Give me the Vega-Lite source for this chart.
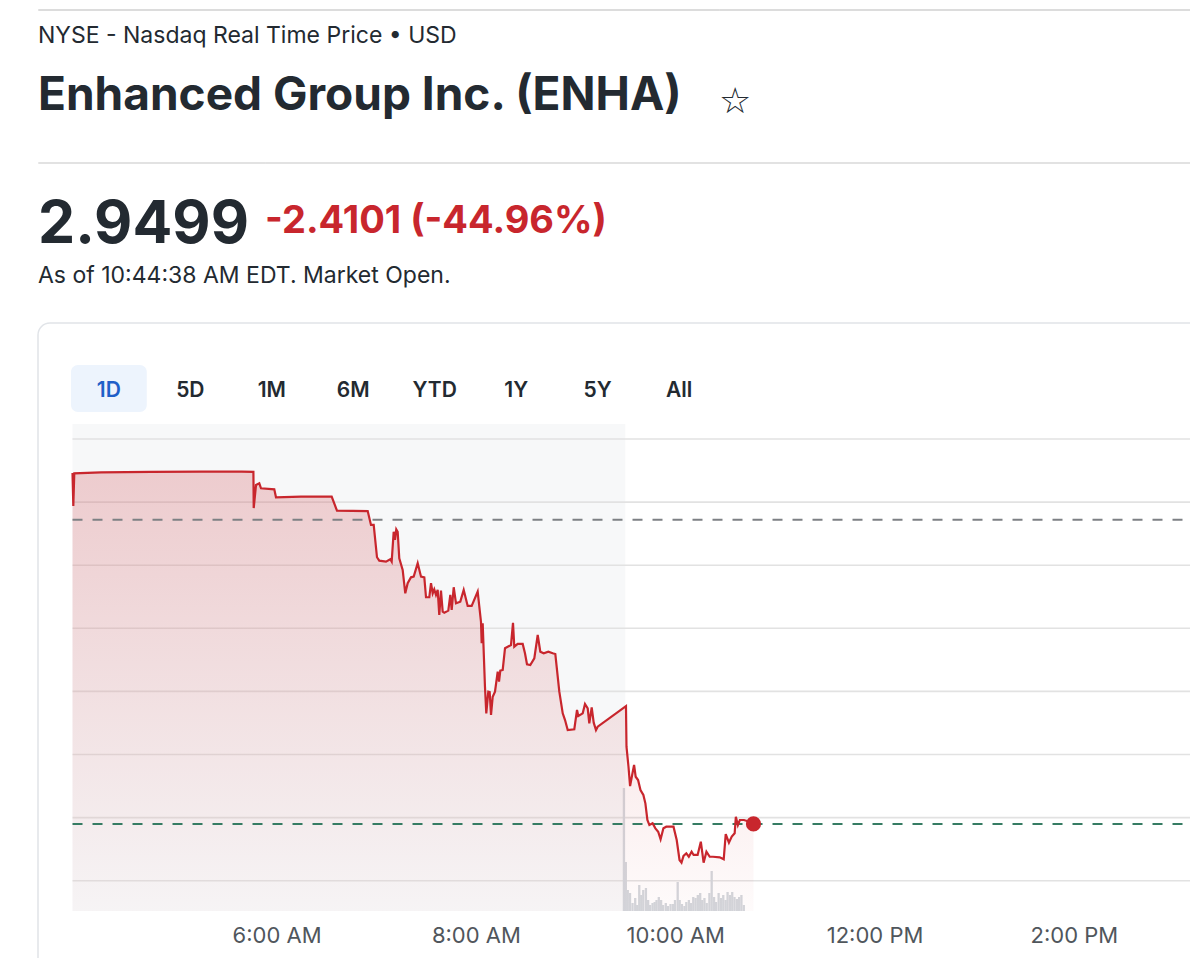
{
  "$schema": "https://vega.github.io/schema/vega-lite/v6.json",
  "padding": {"left": 37, "top": 8, "right": 0, "bottom": 0},
  "background": "white",
  "bounds": "flush",
  "spacing": 153,
  "config": {
    "font": "Inter",
    "view": {"stroke": null},
    "axis": {"domain": false, "ticks": false, "grid": false},
    "title": {"anchor": "start", "orient": "bottom", "frame": "group", "limit": 1500}
  },
  "datasets": {
    "price": [
      {"time": "2024-07-17T04:00:00", "price": 5.731},
      {"time": "2024-07-17T04:00:29", "price": 5.469},
      {"time": "2024-07-17T04:01:04", "price": 5.728},
      {"time": "2024-07-17T04:17:00", "price": 5.735},
      {"time": "2024-07-17T04:47:00", "price": 5.739},
      {"time": "2024-07-17T05:17:00", "price": 5.742},
      {"time": "2024-07-17T05:41:00", "price": 5.742},
      {"time": "2024-07-17T05:48:00", "price": 5.740},
      {"time": "2024-07-17T05:48:11", "price": 5.453},
      {"time": "2024-07-17T05:49:33", "price": 5.635},
      {"time": "2024-07-17T05:51:31", "price": 5.649},
      {"time": "2024-07-17T05:52:32", "price": 5.609},
      {"time": "2024-07-17T06:00:28", "price": 5.601},
      {"time": "2024-07-17T06:01:29", "price": 5.538},
      {"time": "2024-07-17T06:16:25", "price": 5.544},
      {"time": "2024-07-17T06:34:44", "price": 5.543},
      {"time": "2024-07-17T06:37:54", "price": 5.432},
      {"time": "2024-07-17T06:56:14", "price": 5.429},
      {"time": "2024-07-17T06:58:12", "price": 5.319},
      {"time": "2024-07-17T06:59:49", "price": 5.319},
      {"time": "2024-07-17T07:01:47", "price": 5.063},
      {"time": "2024-07-17T07:03:09", "price": 5.036},
      {"time": "2024-07-17T07:07:09", "price": 5.028},
      {"time": "2024-07-17T07:09:43", "price": 5.047},
      {"time": "2024-07-17T07:10:33", "price": 5.028},
      {"time": "2024-07-17T07:11:45", "price": 5.265},
      {"time": "2024-07-17T07:12:32", "price": 5.200},
      {"time": "2024-07-17T07:13:18", "price": 5.284},
      {"time": "2024-07-17T07:14:08", "price": 5.265},
      {"time": "2024-07-17T07:15:05", "price": 5.055},
      {"time": "2024-07-17T07:17:07", "price": 4.962},
      {"time": "2024-07-17T07:18:40", "price": 4.777},
      {"time": "2024-07-17T07:20:06", "price": 4.857},
      {"time": "2024-07-17T07:22:05", "price": 4.904},
      {"time": "2024-07-17T07:23:42", "price": 4.909},
      {"time": "2024-07-17T07:26:05", "price": 5.015},
      {"time": "2024-07-17T07:28:04", "price": 4.909},
      {"time": "2024-07-17T07:30:02", "price": 4.904},
      {"time": "2024-07-17T07:31:03", "price": 4.746},
      {"time": "2024-07-17T07:33:01", "price": 4.746},
      {"time": "2024-07-17T07:34:02", "price": 4.857},
      {"time": "2024-07-17T07:35:03", "price": 4.777},
      {"time": "2024-07-17T07:35:59", "price": 4.809},
      {"time": "2024-07-17T07:37:00", "price": 4.764},
      {"time": "2024-07-17T07:38:01", "price": 4.804},
      {"time": "2024-07-17T07:38:58", "price": 4.605},
      {"time": "2024-07-17T07:39:59", "price": 4.798},
      {"time": "2024-07-17T07:41:00", "price": 4.632},
      {"time": "2024-07-17T07:41:58", "price": 4.624},
      {"time": "2024-07-17T07:44:21", "price": 4.640},
      {"time": "2024-07-17T07:45:33", "price": 4.764},
      {"time": "2024-07-17T07:46:23", "price": 4.645},
      {"time": "2024-07-17T07:47:35", "price": 4.825},
      {"time": "2024-07-17T07:48:57", "price": 4.698},
      {"time": "2024-07-17T07:51:31", "price": 4.711},
      {"time": "2024-07-17T07:53:33", "price": 4.804},
      {"time": "2024-07-17T07:55:56", "price": 4.677},
      {"time": "2024-07-17T07:58:19", "price": 4.677},
      {"time": "2024-07-17T08:01:54", "price": 4.790},
      {"time": "2024-07-17T08:03:52", "price": 4.552},
      {"time": "2024-07-17T08:04:17", "price": 4.381},
      {"time": "2024-07-17T08:04:53", "price": 4.540},
      {"time": "2024-07-17T08:06:15", "price": 4.037},
      {"time": "2024-07-17T08:07:02", "price": 3.826},
      {"time": "2024-07-17T08:08:14", "price": 3.998},
      {"time": "2024-07-17T08:09:04", "price": 3.995},
      {"time": "2024-07-17T08:09:51", "price": 3.813},
      {"time": "2024-07-17T08:10:52", "price": 3.958},
      {"time": "2024-07-17T08:12:14", "price": 3.998},
      {"time": "2024-07-17T08:13:51", "price": 4.156},
      {"time": "2024-07-17T08:14:38", "price": 4.077},
      {"time": "2024-07-17T08:15:24", "price": 4.164},
      {"time": "2024-07-17T08:16:50", "price": 4.170},
      {"time": "2024-07-17T08:18:13", "price": 4.342},
      {"time": "2024-07-17T08:19:49", "price": 4.354},
      {"time": "2024-07-17T08:21:47", "price": 4.368},
      {"time": "2024-07-17T08:22:59", "price": 4.544},
      {"time": "2024-07-17T08:23:45", "price": 4.354},
      {"time": "2024-07-17T08:25:47", "price": 4.376},
      {"time": "2024-07-17T08:28:46", "price": 4.376},
      {"time": "2024-07-17T08:30:08", "price": 4.302},
      {"time": "2024-07-17T08:31:20", "price": 4.215},
      {"time": "2024-07-17T08:33:18", "price": 4.209},
      {"time": "2024-07-17T08:35:42", "price": 4.262},
      {"time": "2024-07-17T08:37:44", "price": 4.447},
      {"time": "2024-07-17T08:39:17", "price": 4.315},
      {"time": "2024-07-17T08:41:19", "price": 4.302},
      {"time": "2024-07-17T08:44:04", "price": 4.315},
      {"time": "2024-07-17T08:46:42", "price": 4.302},
      {"time": "2024-07-17T08:48:15", "price": 4.296},
      {"time": "2024-07-17T08:50:38", "price": 3.998},
      {"time": "2024-07-17T08:52:40", "price": 3.826},
      {"time": "2024-07-17T08:54:03", "price": 3.773},
      {"time": "2024-07-17T08:55:39", "price": 3.694},
      {"time": "2024-07-17T08:59:35", "price": 3.700},
      {"time": "2024-07-17T09:01:12", "price": 3.853},
      {"time": "2024-07-17T09:01:58", "price": 3.805},
      {"time": "2024-07-17T09:04:36", "price": 3.826},
      {"time": "2024-07-17T09:05:58", "price": 3.900},
      {"time": "2024-07-17T09:07:35", "price": 3.866},
      {"time": "2024-07-17T09:08:32", "price": 3.747},
      {"time": "2024-07-17T09:09:58", "price": 3.874},
      {"time": "2024-07-17T09:11:10", "price": 3.752},
      {"time": "2024-07-17T09:12:32", "price": 3.694},
      {"time": "2024-07-17T09:13:33", "price": 3.720},
      {"time": "2024-07-17T09:30:26", "price": 3.884},
      {"time": "2024-07-17T09:30:44", "price": 3.562},
      {"time": "2024-07-17T09:31:56", "price": 3.403},
      {"time": "2024-07-17T09:32:53", "price": 3.250},
      {"time": "2024-07-17T09:34:19", "price": 3.351},
      {"time": "2024-07-17T09:35:16", "price": 3.417},
      {"time": "2024-07-17T09:36:13", "price": 3.324},
      {"time": "2024-07-17T09:37:39", "price": 3.298},
      {"time": "2024-07-17T09:39:05", "price": 3.219},
      {"time": "2024-07-17T09:40:49", "price": 3.179},
      {"time": "2024-07-17T09:42:01", "price": 3.113},
      {"time": "2024-07-17T09:43:13", "price": 2.981},
      {"time": "2024-07-17T09:44:24", "price": 2.941},
      {"time": "2024-07-17T09:46:19", "price": 2.955},
      {"time": "2024-07-17T09:48:00", "price": 2.915},
      {"time": "2024-07-17T09:49:40", "price": 2.888},
      {"time": "2024-07-17T09:51:06", "price": 2.828},
      {"time": "2024-07-17T09:52:47", "price": 2.915},
      {"time": "2024-07-17T09:54:30", "price": 2.928},
      {"time": "2024-07-17T09:58:48", "price": 2.928},
      {"time": "2024-07-17T10:00:43", "price": 2.822},
      {"time": "2024-07-17T10:02:24", "price": 2.664},
      {"time": "2024-07-17T10:03:35", "price": 2.643},
      {"time": "2024-07-17T10:04:47", "price": 2.696},
      {"time": "2024-07-17T10:06:27", "price": 2.717},
      {"time": "2024-07-17T10:07:57", "price": 2.690},
      {"time": "2024-07-17T10:09:37", "price": 2.730},
      {"time": "2024-07-17T10:10:49", "price": 2.704},
      {"time": "2024-07-17T10:13:12", "price": 2.704},
      {"time": "2024-07-17T10:15:07", "price": 2.809},
      {"time": "2024-07-17T10:16:47", "price": 2.643},
      {"time": "2024-07-17T10:18:28", "price": 2.730},
      {"time": "2024-07-17T10:20:26", "price": 2.690},
      {"time": "2024-07-17T10:22:21", "price": 2.690},
      {"time": "2024-07-17T10:26:24", "price": 2.685},
      {"time": "2024-07-17T10:28:47", "price": 2.670},
      {"time": "2024-07-17T10:29:59", "price": 2.870},
      {"time": "2024-07-17T10:31:54", "price": 2.801},
      {"time": "2024-07-17T10:33:35", "price": 2.849},
      {"time": "2024-07-17T10:35:19", "price": 2.876},
      {"time": "2024-07-17T10:36:02", "price": 3.007},
      {"time": "2024-07-17T10:37:14", "price": 2.941},
      {"time": "2024-07-17T10:38:25", "price": 2.981},
      {"time": "2024-07-17T10:40:48", "price": 2.981},
      {"time": "2024-07-17T10:44:23", "price": 2.967},
      {"time": "2024-07-17T10:46:33", "price": 2.9499}
    ],
    "volume": [
      {"time": "2024-07-17T09:29:08", "volume": 307500},
      {"time": "2024-07-17T09:30:16", "volume": 122500},
      {"time": "2024-07-17T09:31:26", "volume": 52500},
      {"time": "2024-07-17T09:32:49", "volume": 45000},
      {"time": "2024-07-17T09:34:19", "volume": 20000},
      {"time": "2024-07-17T09:35:56", "volume": 32500},
      {"time": "2024-07-17T09:37:07", "volume": 15000},
      {"time": "2024-07-17T09:38:22", "volume": 65000},
      {"time": "2024-07-17T09:39:34", "volume": 40000},
      {"time": "2024-07-17T09:40:46", "volume": 52500},
      {"time": "2024-07-17T09:42:23", "volume": 57500},
      {"time": "2024-07-17T09:43:42", "volume": 27500},
      {"time": "2024-07-17T09:44:53", "volume": 15000},
      {"time": "2024-07-17T09:46:22", "volume": 20000},
      {"time": "2024-07-17T09:47:38", "volume": 22500},
      {"time": "2024-07-17T09:48:46", "volume": 27500},
      {"time": "2024-07-17T09:50:08", "volume": 35000},
      {"time": "2024-07-17T09:51:31", "volume": 27500},
      {"time": "2024-07-17T09:52:43", "volume": 15000},
      {"time": "2024-07-17T09:54:20", "volume": 20000},
      {"time": "2024-07-17T09:55:38", "volume": 12500},
      {"time": "2024-07-17T09:57:11", "volume": 17500},
      {"time": "2024-07-17T09:58:41", "volume": 17500},
      {"time": "2024-07-17T09:59:53", "volume": 27500},
      {"time": "2024-07-17T10:01:30", "volume": 72500},
      {"time": "2024-07-17T10:02:42", "volume": 27500},
      {"time": "2024-07-17T10:04:04", "volume": 17500},
      {"time": "2024-07-17T10:05:34", "volume": 12500},
      {"time": "2024-07-17T10:06:42", "volume": 22500},
      {"time": "2024-07-17T10:08:15", "volume": 27500},
      {"time": "2024-07-17T10:09:27", "volume": 20000},
      {"time": "2024-07-17T10:10:53", "volume": 35000},
      {"time": "2024-07-17T10:12:15", "volume": 32500},
      {"time": "2024-07-17T10:13:37", "volume": 40000},
      {"time": "2024-07-17T10:15:03", "volume": 45000},
      {"time": "2024-07-17T10:16:15", "volume": 27500},
      {"time": "2024-07-17T10:17:37", "volume": 32500},
      {"time": "2024-07-17T10:18:59", "volume": 20000},
      {"time": "2024-07-17T10:20:36", "volume": 45000},
      {"time": "2024-07-17T10:21:58", "volume": 100000},
      {"time": "2024-07-17T10:23:24", "volume": 35000},
      {"time": "2024-07-17T10:24:36", "volume": 22500},
      {"time": "2024-07-17T10:26:09", "volume": 45000},
      {"time": "2024-07-17T10:27:35", "volume": 32500},
      {"time": "2024-07-17T10:28:57", "volume": 40000},
      {"time": "2024-07-17T10:30:20", "volume": 27500},
      {"time": "2024-07-17T10:31:32", "volume": 47500},
      {"time": "2024-07-17T10:32:58", "volume": 40000},
      {"time": "2024-07-17T10:34:20", "volume": 47500},
      {"time": "2024-07-17T10:35:42", "volume": 35000},
      {"time": "2024-07-17T10:37:08", "volume": 30000},
      {"time": "2024-07-17T10:38:30", "volume": 35000},
      {"time": "2024-07-17T10:39:52", "volume": 40000},
      {"time": "2024-07-17T10:41:18", "volume": 15000}
    ],
    "levels": [
      {"level": 2.5}, {"level": 3.0}, {"level": 3.5}, {"level": 4.0},
      {"level": 4.5}, {"level": 5.0}, {"level": 5.5}, {"level": 6.0}
    ],
    "refs": [
      {"kind": "Previous close", "price": 5.36},
      {"kind": "Current", "price": 2.9499, "time": "2024-07-17T10:46:33"}
    ],
    "ranges": [
      {"range": "1D", "selected": true},
      {"range": "5D", "selected": false},
      {"range": "1M", "selected": false},
      {"range": "6M", "selected": false},
      {"range": "YTD", "selected": false},
      {"range": "1Y", "selected": false},
      {"range": "5Y", "selected": false},
      {"range": "All", "selected": false}
    ]
  },
  "vconcat": [
    {
      "hconcat": [
        {
          "width": 681,
          "height": 1,
          "view": {"stroke": "#dcdcdc", "strokeWidth": 1},
          "data": {"values": []},
          "mark": {"type": "text", "text": ""},
          "title": {
            "text": "NYSE - Nasdaq Real Time Price • USD",
            "subtitle": "Enhanced Group Inc. (ENHA)",
            "offset": 15,
            "font": "Inter",
            "fontSize": 23,
            "fontWeight": "normal",
            "color": "#232a31",
            "subtitleFont": "Inter",
            "subtitleFontSize": 46,
            "subtitleFontWeight": "bold",
            "subtitleColor": "#232a31",
            "subtitlePadding": 26
          }
        },
        {
          "width": 471,
          "height": 1,
          "view": {"stroke": "#dcdcdc", "strokeWidth": 1},
          "data": {"values": []},
          "mark": {"type": "text", "text": ""},
          "title": {
            "text": "☆",
            "offset": 75,
            "font": "DejaVu Sans",
            "fontSize": 36,
            "fontWeight": "normal",
            "color": "#232a31"
          }
        }
      ],
      "spacing": 0,
      "bounds": "flush"
    },
    {
      "vconcat": [
        {
          "hconcat": [
            {
              "width": 227,
              "height": 1,
              "view": {"stroke": "#e2e2e2", "strokeWidth": 1},
              "data": {"values": []},
              "mark": {"type": "text", "text": ""},
              "title": {
                "text": "2.9499",
                "subtitle": "As of 10:44:38 AM EDT. Market Open.",
                "offset": 33,
                "font": "Inter",
                "fontSize": 59,
                "fontWeight": "bold",
                "color": "#232a31",
                "subtitleFont": "Inter",
                "subtitleFontSize": 23,
                "subtitleFontWeight": "normal",
                "subtitleColor": "#232a31",
                "subtitlePadding": 10
              }
            },
            {
              "width": 925,
              "height": 1,
              "view": {"stroke": "#e2e2e2", "strokeWidth": 1},
              "data": {"values": []},
              "mark": {"type": "text", "text": ""},
              "title": {
                "text": "-2.4101 (-44.96%)",
                "offset": 40,
                "font": "Inter",
                "fontSize": 38,
                "fontWeight": "bold",
                "color": "#c8262d"
              }
            }
          ],
          "spacing": 0,
          "bounds": "flush"
        },
        {
          "width": 1200,
          "height": 680,
          "view": {"stroke": "#e1e4e8", "strokeWidth": 1.5, "cornerRadius": 12, "fill": "white"},
          "layer": [
            {
              "layer": [
                {
                  "data": {"values": [{"session": "Pre-market"}]},
                  "mark": {"type": "rect", "fill": "#eceef1", "opacity": 0.4},
                  "encoding": {
                    "x": {"datum": {"year": 2024, "month": 7, "date": 17, "hours": 4}, "type": "temporal",
                      "scale": {"domain": [{"year": 2024, "month": 7, "date": 17, "hours": 3, "minutes": 39, "seconds": 24}, {"year": 2024, "month": 7, "date": 17, "hours": 15, "minutes": 35, "seconds": 49}], "nice": false},
                      "axis": null},
                    "x2": {"datum": {"year": 2024, "month": 7, "date": 17, "hours": 9, "minutes": 30}},
                    "y": {"datum": 6.119, "type": "quantitative", "scale": {"domain": [1.531, 6.919], "nice": false, "zero": false}, "axis": null},
                    "y2": {"datum": 2.26}
                  }
                },
                {
                  "data": {"name": "levels"},
                  "mark": {"type": "rule", "color": "#e2e2e2", "strokeWidth": 1.6},
                  "encoding": {
                    "x": {"datum": {"year": 2024, "month": 7, "date": 17, "hours": 4}, "type": "temporal", "axis": null},
                    "x2": {"datum": {"year": 2024, "month": 7, "date": 17, "hours": 15, "minutes": 35, "seconds": 49}},
                    "y": {"field": "level", "type": "quantitative", "axis": null}
                  }
                }
              ]
            },
            {
              "data": {"name": "volume"},
              "mark": {"type": "bar", "width": 2.3, "color": "#d3d7dc"},
              "encoding": {
                "x": {"field": "time", "type": "temporal",
                  "scale": {"domain": [{"year": 2024, "month": 7, "date": 17, "hours": 3, "minutes": 39, "seconds": 24}, {"year": 2024, "month": 7, "date": 17, "hours": 15, "minutes": 35, "seconds": 49}], "nice": false},
                  "axis": {
                    "values": [
                      {"year": 2024, "month": 7, "date": 17, "hours": 6},
                      {"year": 2024, "month": 7, "date": 17, "hours": 8},
                      {"year": 2024, "month": 7, "date": 17, "hours": 10},
                      {"year": 2024, "month": 7, "date": 17, "hours": 12},
                      {"year": 2024, "month": 7, "date": 17, "hours": 14}
                    ],
                    "format": "%-I:%M %p",
                    "orient": "bottom",
                    "offset": -61,
                    "labelPadding": 0,
                    "labelBaseline": "alphabetic",
                    "labelFont": "Inter",
                    "labelFontSize": 22,
                    "labelColor": "#50565c",
                    "labelFlush": false,
                    "labelOverlap": false,
                    "tickSize": 0,
                    "ticks": false,
                    "domain": false,
                    "grid": false,
                    "title": null
                  }},
                "y": {"field": "volume", "type": "quantitative", "scale": {"domain": [-230000, 1470000], "nice": false, "zero": false}, "axis": null}
              }
            },
            {
              "layer": [
                {
                  "data": {"name": "price"},
                  "mark": {"type": "area", "line": false,
                    "fill": {"gradient": "linear", "x1": 0, "y1": 0, "x2": 0, "y2": 1,
                      "stops": [{"offset": 0, "color": "rgba(200,38,45,0.21)"}, {"offset": 1, "color": "rgba(200,38,45,0.02)"}]}},
                  "encoding": {
                    "x": {"field": "time", "type": "temporal",
                      "scale": {"domain": [{"year": 2024, "month": 7, "date": 17, "hours": 3, "minutes": 39, "seconds": 24}, {"year": 2024, "month": 7, "date": 17, "hours": 15, "minutes": 35, "seconds": 49}], "nice": false},
                      "axis": null},
                    "y": {"field": "price", "type": "quantitative", "scale": {"domain": [1.531, 6.919], "nice": false, "zero": false}, "axis": null},
                    "y2": {"datum": 2.26}
                  }
                },
                {
                  "data": {"name": "refs"},
                  "transform": [{"filter": "datum.kind === 'Previous close'"}],
                  "mark": {"type": "rule", "color": "#7d8084", "strokeWidth": 2, "strokeDash": [10, 10]},
                  "encoding": {
                    "x": {"datum": {"year": 2024, "month": 7, "date": 17, "hours": 4}, "type": "temporal", "axis": null},
                    "x2": {"datum": {"year": 2024, "month": 7, "date": 17, "hours": 15, "minutes": 35, "seconds": 49}},
                    "y": {"field": "price", "type": "quantitative", "axis": null}
                  }
                },
                {
                  "data": {"name": "refs"},
                  "transform": [{"filter": "datum.kind === 'Current'"}],
                  "mark": {"type": "rule", "color": "#367c63", "strokeWidth": 2, "strokeDash": [10, 10]},
                  "encoding": {
                    "x": {"datum": {"year": 2024, "month": 7, "date": 17, "hours": 4}, "type": "temporal", "axis": null},
                    "x2": {"datum": {"year": 2024, "month": 7, "date": 17, "hours": 15, "minutes": 35, "seconds": 49}},
                    "y": {"field": "price", "type": "quantitative", "axis": null}
                  }
                },
                {
                  "data": {"name": "price"},
                  "mark": {"type": "line", "color": "#c8262d", "strokeWidth": 2.2},
                  "encoding": {
                    "x": {"field": "time", "type": "temporal", "axis": null},
                    "y": {"field": "price", "type": "quantitative", "axis": null}
                  }
                },
                {
                  "data": {"name": "refs"},
                  "transform": [{"filter": "datum.kind === 'Current'"}],
                  "mark": {"type": "point", "filled": true, "size": 230, "color": "#c8262d", "opacity": 1},
                  "encoding": {
                    "x": {"field": "time", "type": "temporal", "axis": null},
                    "y": {"field": "price", "type": "quantitative", "axis": null}
                  }
                }
              ]
            },
            {
              "data": {"name": "ranges"},
              "transform": [{"filter": "datum.selected"}],
              "mark": {"type": "rect", "color": "#edf4fd", "cornerRadius": 7},
              "encoding": {
                "x": {"field": "range", "type": "nominal",
                  "scale": {"type": "band", "domain": ["1D", "5D", "1M", "6M", "YTD", "1Y", "5Y", "All"], "range": [33, 679], "paddingInner": 0.07, "paddingOuter": 0},
                  "axis": null},
                "y": {"datum": "ranges", "type": "nominal",
                  "scale": {"type": "band", "domain": ["ranges"], "range": [42, 89], "paddingInner": 0, "paddingOuter": 0},
                  "axis": null}
              }
            },
            {
              "data": {"name": "ranges"},
              "mark": {"type": "text", "fontSize": 21, "fontWeight": 600, "align": "center", "baseline": "middle", "dy": 2},
              "encoding": {
                "x": {"field": "range", "type": "nominal",
                  "scale": {"type": "band", "domain": ["1D", "5D", "1M", "6M", "YTD", "1Y", "5Y", "All"], "range": [33, 679], "paddingInner": 0.07, "paddingOuter": 0},
                  "axis": null},
                "y": {"datum": "ranges", "type": "nominal",
                  "scale": {"type": "band", "domain": ["ranges"], "range": [42, 89], "paddingInner": 0, "paddingOuter": 0},
                  "axis": null},
                "text": {"field": "range", "type": "nominal"},
                "color": {"condition": {"test": "datum.selected", "value": "#1f5fc8"}, "value": "#232a31"}
              }
            }
          ],
          "resolve": {"scale": {"x": "independent", "y": "independent"}}
        }
      ],
      "spacing": 161,
      "bounds": "flush"
    }
  ]
}
